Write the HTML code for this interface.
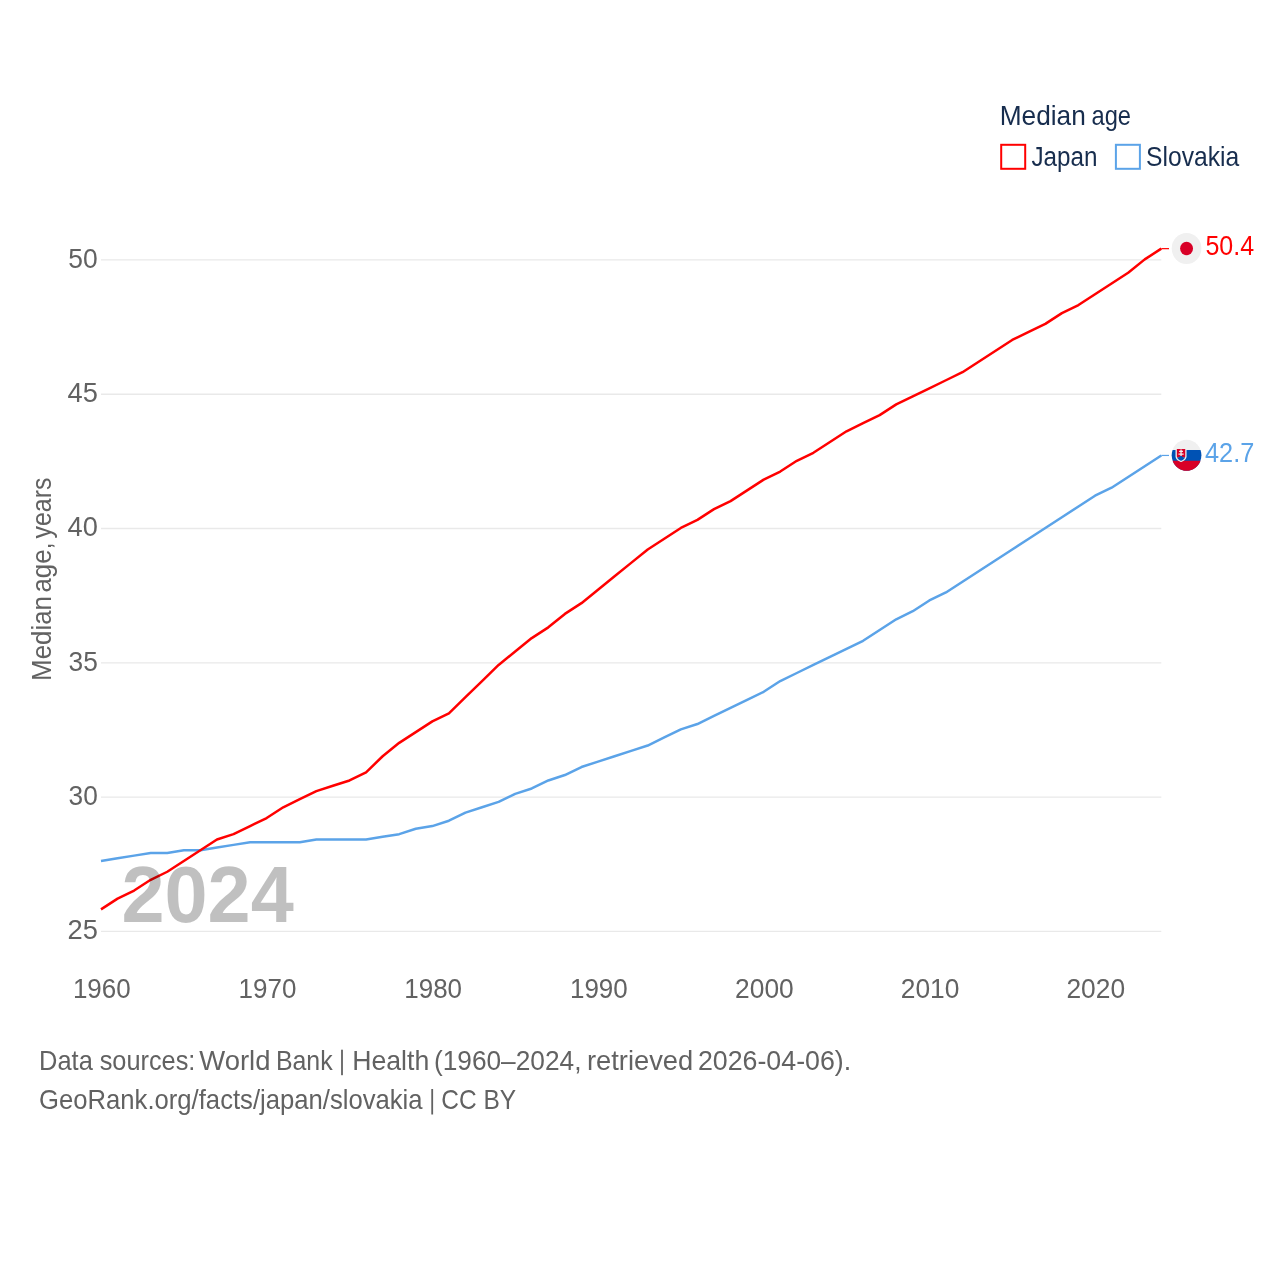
<!DOCTYPE html>
<html><head><meta charset="utf-8"><title>Median age</title>
<style>html,body{margin:0;padding:0;background:#fff}svg{display:block}text{font-family:"Liberation Sans",sans-serif}</style></head>
<body>
<svg width="1280" height="1280" viewBox="0 0 1280 1280">
<rect width="1280" height="1280" fill="#fff"/>
<g stroke="#e9e9e9" stroke-width="1.3">
<line x1="101.0" x2="1161.3" y1="259.94" y2="259.94"/>
<line x1="101.0" x2="1161.3" y1="394.23" y2="394.23"/>
<line x1="101.0" x2="1161.3" y1="528.52" y2="528.52"/>
<line x1="101.0" x2="1161.3" y1="662.81" y2="662.81"/>
<line x1="101.0" x2="1161.3" y1="797.10" y2="797.10"/>
<line x1="101.0" x2="1161.3" y1="931.39" y2="931.39"/>
</g>
<path d="M101.00 861.01 L117.57 858.32 L134.13 855.64 L150.70 852.95 L167.27 852.95 L183.84 850.27 L200.40 850.27 L216.97 847.58 L233.54 844.89 L250.10 842.21 L266.67 842.21 L283.24 842.21 L299.81 842.21 L316.37 839.52 L332.94 839.52 L349.51 839.52 L366.07 839.52 L382.64 836.84 L399.21 834.15 L415.78 828.78 L432.34 826.09 L448.91 820.72 L465.48 812.66 L482.05 807.29 L498.61 801.92 L515.18 793.86 L531.75 788.49 L548.31 780.44 L564.88 775.06 L581.45 767.01 L598.02 761.63 L614.58 756.26 L631.15 750.89 L647.72 745.52 L664.28 737.46 L680.85 729.40 L697.42 724.03 L713.99 715.98 L730.55 707.92 L747.12 699.86 L763.69 691.80 L780.25 681.06 L796.82 673.00 L813.39 664.95 L829.96 656.89 L846.52 648.83 L863.09 640.77 L879.66 630.03 L896.22 619.29 L912.79 611.23 L929.36 600.49 L945.93 592.43 L962.49 581.69 L979.06 570.94 L995.63 560.20 L1012.20 549.46 L1028.76 538.71 L1045.33 527.97 L1061.90 517.23 L1078.46 506.48 L1095.03 495.74 L1111.60 487.68 L1128.17 476.94 L1144.73 466.20 L1161.30 455.45" fill="none" stroke="#5ba3e8" stroke-width="2.5" stroke-linejoin="round"/>
<path d="M101.00 909.35 L117.57 898.61 L134.13 890.55 L150.70 879.81 L167.27 871.75 L183.84 861.01 L200.40 850.27 L216.97 839.52 L233.54 834.15 L250.10 826.09 L266.67 818.04 L283.24 807.29 L299.81 799.24 L316.37 791.18 L332.94 785.81 L349.51 780.44 L366.07 772.38 L382.64 756.26 L399.21 742.83 L415.78 732.09 L432.34 721.35 L448.91 713.29 L465.48 697.18 L482.05 681.06 L498.61 664.95 L515.18 651.52 L531.75 638.09 L548.31 627.34 L564.88 613.92 L581.45 603.17 L598.02 589.74 L614.58 576.31 L631.15 562.89 L647.72 549.46 L664.28 538.71 L680.85 527.97 L697.42 519.91 L713.99 509.17 L730.55 501.11 L747.12 490.37 L763.69 479.63 L780.25 471.57 L796.82 460.82 L813.39 452.77 L829.96 442.02 L846.52 431.28 L863.09 423.22 L879.66 415.17 L896.22 404.42 L912.79 396.37 L929.36 388.31 L945.93 380.25 L962.49 372.19 L979.06 361.45 L995.63 350.71 L1012.20 339.96 L1028.76 331.91 L1045.33 323.85 L1061.90 313.11 L1078.46 305.05 L1095.03 294.31 L1111.60 283.56 L1128.17 272.82 L1144.73 259.39 L1161.30 248.65" fill="none" stroke="#ff0000" stroke-width="2.5" stroke-linejoin="round"/>
<line x1="1161.3" x2="1169" y1="248.65" y2="248.65" stroke="#ff0000" stroke-width="1.2"/>
<line x1="1161.3" x2="1169" y1="455.45" y2="455.45" stroke="#5ba3e8" stroke-width="1.2"/>
<rect x="1001.2" y="144.8" width="24" height="24" fill="none" stroke="#ff0000" stroke-width="2"/>
<rect x="1115.9" y="144.8" width="24" height="24" fill="none" stroke="#5ba3e8" stroke-width="2"/>
<g opacity="0.999">
<text transform="translate(999.692 124.50) scale(0.9729 1)" font-size="27.0" font-weight="normal" fill="#172d4e">Median</text>
<text transform="translate(1091.505 124.50) scale(0.8779 1)" font-size="27.0" font-weight="normal" fill="#172d4e">age</text>
<text transform="translate(1031.482 166.10) scale(0.8980 1)" font-size="27.0" font-weight="normal" fill="#172d4e">Japan</text>
<text transform="translate(1146.052 166.10) scale(0.9139 1)" font-size="27.0" font-weight="normal" fill="#172d4e">Slovakia</text>
<text transform="translate(68.372 267.74) scale(0.9787 1)" font-size="27.0" font-weight="normal" fill="#626262">50</text>
<text transform="translate(67.535 402.03) scale(1.0090 1)" font-size="27.0" font-weight="normal" fill="#626262">45</text>
<text transform="translate(67.536 536.32) scale(1.0074 1)" font-size="27.0" font-weight="normal" fill="#626262">40</text>
<text transform="translate(68.534 670.61) scale(0.9747 1)" font-size="27.0" font-weight="normal" fill="#626262">35</text>
<text transform="translate(68.537 804.90) scale(0.9730 1)" font-size="27.0" font-weight="normal" fill="#626262">30</text>
<text transform="translate(67.477 939.19) scale(1.0110 1)" font-size="27.0" font-weight="normal" fill="#626262">25</text>
<text transform="translate(72.908 998.00) scale(0.9627 1)" font-size="27.0" font-weight="normal" fill="#626262">1960</text>
<text transform="translate(238.580 998.00) scale(0.9627 1)" font-size="27.0" font-weight="normal" fill="#626262">1970</text>
<text transform="translate(404.251 998.00) scale(0.9627 1)" font-size="27.0" font-weight="normal" fill="#626262">1980</text>
<text transform="translate(569.923 998.00) scale(0.9627 1)" font-size="27.0" font-weight="normal" fill="#626262">1990</text>
<text transform="translate(735.062 998.00) scale(0.9768 1)" font-size="27.0" font-weight="normal" fill="#626262">2000</text>
<text transform="translate(900.734 998.00) scale(0.9768 1)" font-size="27.0" font-weight="normal" fill="#626262">2010</text>
<text transform="translate(1066.406 998.00) scale(0.9768 1)" font-size="27.0" font-weight="normal" fill="#626262">2020</text>
<text transform="translate(1205.446 254.80) scale(0.9265 1)" font-size="27.0" font-weight="normal" fill="#ff0000">50.4</text>
<text transform="translate(1204.982 461.80) scale(0.9382 1)" font-size="27.0" font-weight="normal" fill="#5ba3e8">42.7</text>
<text transform="translate(39.052 1069.90) scale(0.9424 1)" font-size="27.0" font-weight="normal" fill="#626262">Data</text>
<text transform="translate(99.698 1069.90) scale(0.9377 1)" font-size="27.0" font-weight="normal" fill="#626262">sources:</text>
<text transform="translate(199.269 1069.90) scale(1.0171 1)" font-size="27.0" font-weight="normal" fill="#626262">World</text>
<text transform="translate(275.890 1069.90) scale(0.9232 1)" font-size="27.0" font-weight="normal" fill="#626262">Bank</text>
<rect x="341.10" y="1049.70" width="1.8" height="25.5" fill="#626262"/>
<text transform="translate(352.163 1069.90) scale(0.9879 1)" font-size="27.0" font-weight="normal" fill="#626262">Health</text>
<text transform="translate(433.951 1069.90) scale(0.9734 1)" font-size="27.0" font-weight="normal" fill="#626262">(1960–2024,</text>
<text transform="translate(586.941 1069.90) scale(1.0116 1)" font-size="27.0" font-weight="normal" fill="#626262">retrieved</text>
<text transform="translate(697.903 1069.90) scale(0.9922 1)" font-size="27.0" font-weight="normal" fill="#626262">2026-04-06).</text>
<text transform="translate(39.055 1109.20) scale(0.9503 1)" font-size="27.0" font-weight="normal" fill="#626262">GeoRank.org/facts/japan/slovakia</text>
<rect x="431.30" y="1089.00" width="1.8" height="25.5" fill="#626262"/>
<text transform="translate(441.294 1109.20) scale(0.9074 1)" font-size="27.0" font-weight="normal" fill="#626262">CC BY</text>
<text transform="translate(51.00 679.00) rotate(-90) translate(-1.878 0) scale(0.9576 1)" font-size="27.0" font-weight="normal" fill="#626262">Median</text>
<text transform="translate(51.00 679.00) rotate(-90) translate(86.406 0) scale(0.9578 1)" font-size="27.0" font-weight="normal" fill="#626262">age,</text>
<text transform="translate(51.00 679.00) rotate(-90) translate(140.608 0) scale(0.9207 1)" font-size="27.0" font-weight="normal" fill="#626262">years</text>
<text transform="translate(121.407 921.60) scale(0.9687 1)" font-size="80" font-weight="bold" fill="#000" fill-opacity="0.25">2024</text>
</g>
<g transform="translate(1171.70 232.95) scale(0.05801 0.06055)">
<circle cx="256" cy="256" r="256" fill="#f0f0f0"/><circle cx="256" cy="256" r="111.304" fill="#d80027"/>
</g>
<g transform="translate(1171.70 439.80) scale(0.05801 0.06055)">
<circle cx="256" cy="256" r="256" fill="#f0f0f0"/>
<path fill="#0052b4" d="M256 512c141.384 0 256-114.616 256-256 0-31.314-5.632-61.311-15.923-89.043H15.923C5.633 194.689 0 224.686 0 256c0 141.384 114.616 256 256 256z"/>
<path fill="#d80027" d="M256 512c110.071 0 203.906-69.472 240.077-166.957H15.923C52.094 442.528 145.929 512 256 512z"/>
<path fill="#f0f0f0" d="M66.198 136v136.402c0 72.644 94.901 94.903 94.901 94.903s94.9-22.259 94.9-94.903V136H66.198z"/>
<path fill="#d80027" d="M88.459 152v120.402c0 7.042 1.564 13.692 4.662 19.926h135.957c3.098-6.233 4.662-12.884 4.662-19.926V152H88.459z"/>
<path transform="translate(0 -8)" fill="#f0f0f0" d="M205.62 233.739h-33.39v-22.261h22.261v-22.261H172.23v-22.26h-22.261v22.26h-22.26v22.261h22.26v22.261h-33.392V256h33.392v22.261h22.261V256h33.39z"/>
<path fill="#0052b4" d="M124.471 327.61c14.345 9.015 29.083 14.249 36.628 16.577 7.545-2.327 22.283-7.562 36.628-16.577 14.466-9.092 24.607-19.49 30.365-31.075-6.351-4.493-14.1-7.143-22.471-7.143-3.048 0-6.009.362-8.856 1.024-6.033-13.708-19.728-23.285-35.665-23.285s-29.633 9.577-35.665 23.285c-2.847-.662-5.809-1.024-8.856-1.024-8.371 0-16.12 2.65-22.471 7.143 5.755 11.584 15.896 21.982 30.363 31.075z"/>
</g>
</svg>
</body></html>
